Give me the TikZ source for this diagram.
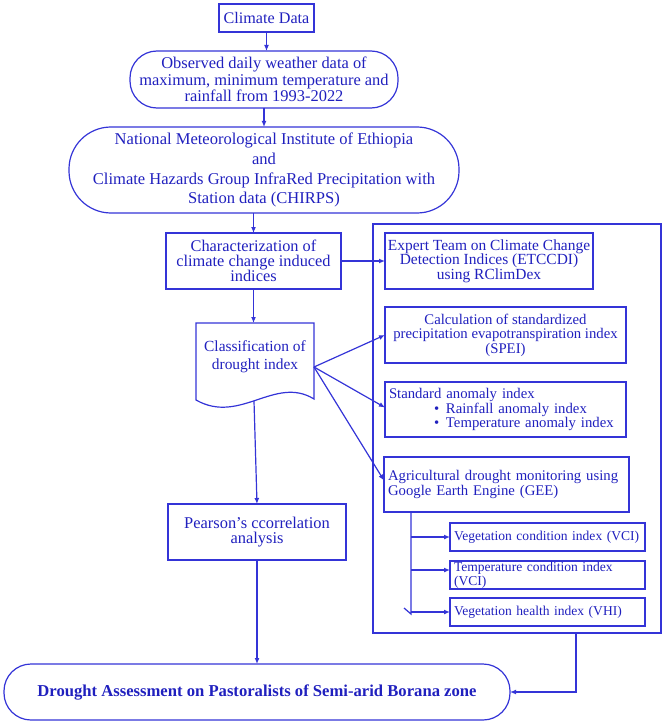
\documentclass[tikz,border=0pt]{standalone}
\usepackage{fontspec}
\setmainfont{Liberation Serif}
\usetikzlibrary{arrows.meta,calc}
\definecolor{ln}{RGB}{52,52,215}
\definecolor{tx}{RGB}{32,32,190}
\hyphenpenalty=10000
\exhyphenpenalty=10000
\begin{document}
\begin{tikzpicture}[x=1bp,y=-1bp,
  every node/.style={text=tx, inner sep=0pt, outer sep=0pt},
  box/.style={draw=ln, line width=1.2bp, align=center, font=\fontsize{16.5}{15}\selectfont},
  rbox/.style={draw=ln, line width=1.2bp, align=center, font=\fontsize{14.8}{14.5}\selectfont},
  lbox/.style={draw=ln, line width=1.2bp, align=left, inner xsep=4bp, font=\fontsize{14.8}{14.5}\selectfont},
  sbox/.style={draw=ln, line width=1.2bp, align=left, inner xsep=4bp, text width=187bp, minimum width=195bp, minimum height=28bp, font=\fontsize{13.6}{14}\selectfont},
  frame/.style={draw=ln, line width=1.2bp},
  conn/.style={draw=ln, line width=1.2bp},
  arr/.style={draw=ln, line width=1.2bp, -{Latex[length=6bp,width=5bp]}}
]
\useasboundingbox (0,0) rectangle (666,723);

% left column
\node[box, minimum width=95bp, minimum height=28bp, font=\fontsize{16.2}{15}\selectfont] (cd) at (266.5,18) {Climate Data};
\node[box, rounded corners=27bp, minimum width=268bp, minimum height=57bp,
  font=\fontsize{16.5}{16.5}\selectfont] (obs) at (264,79.5)
  {Observed daily weather data of\\maximum, minimum temperature and\\rainfall from 1993-2022};
\node[box, rounded corners=42bp, minimum width=390bp, minimum height=86bp,
  font=\fontsize{16.6}{20}\selectfont] (nmi) at (264,170)
  {National Meteorological Institute of Ethiopia\\and\\Climate Hazards Group InfraRed Precipitation with\\Station data (CHIRPS)};
\node[box, minimum width=175bp, minimum height=56bp,
  font=\fontsize{16.4}{15}\selectfont] (char) at (253.5,261)
  {Characterization of\\climate change induced\\indices};

% document shape
\node[minimum width=118bp, minimum height=77bp] (cls) at (255,361.5) {};
\draw[frame] (cls.north west) -- (cls.north east) -- (314,399)
  .. controls (275,375) and (240,425) .. (196,400) -- cycle;
\node[align=center, font=\fontsize{15.5}{18}\selectfont] (clstext) at (255,357) {Classification of\\drought index};
\coordinate (clr) at (314,367);
\coordinate (clb) at (254,401);

\node[box, minimum width=178bp, minimum height=56bp,
  font=\fontsize{16.5}{15}\selectfont] (pear) at (257,532)
  {Pearson’s ccorrelation\\analysis};
\node[box, rounded corners=27bp, minimum width=506bp, minimum height=56bp,
  font=\fontsize{16.7}{15}\selectfont\bfseries] (dr) at (257,692)
  {Drought Assessment on Pastoralists of Semi-arid Borana zone};

% right frame
\node[frame, minimum width=288bp, minimum height=409bp] (big) at (517,428.5) {};
\node[rbox, minimum width=208bp, minimum height=56bp,
  font=\fontsize{15.5}{14.5}\selectfont] (exp) at (489,261)
  {Expert Team on Climate Change\\Detection Indices (ETCCDI)\\using RClimDex};
\node[rbox, minimum width=241bp, minimum height=56bp] (spei) at (505.5,335)
  {Calculation of standardized\\precipitation evapotranspiration index\\(SPEI)};
\node[lbox, text width=233bp, minimum width=241bp, minimum height=55bp] (sai) at (505.5,409.5)
  {Standard anomaly index\\
   \hspace*{45bp}\makebox[12bp][l]{•}Rainfall anomaly index\\
   \hspace*{45bp}\makebox[12bp][l]{•}Temperature anomaly index};
\node[lbox, text width=237bp, minimum width=243bp, minimum height=55bp,
  font=\fontsize{14.8}{15}\selectfont] (agr) at (506.5,484.5)
  {Agricultural drought monitoring using\\Google Earth Engine (GEE)};
\node[sbox] (vci) at (547.5,537) {Vegetation condition index (VCI)};
\node[sbox] (tci) at (547.5,575) {Temperature condition index\\(VCI)};
\node[sbox] (vhi) at (547.5,612) {Vegetation health index (VHI)};

% connectors
\draw[arr] (cd.south) -- (cd.south |- obs.north);
\draw[arr] (obs.south) -- (obs.south |- nmi.north);
\draw[arr] (char.north |- nmi.south) -- (char.north);
\draw[arr] (char.east) -- (exp.west);
\draw[arr] (char.south) -- (char.south |- cls.north);
\draw[arr] (clr) -- (spei.west);
\draw[arr] (clr) -- ($(sai.west)+(0,-2)$);
\draw[arr] (clr) -- ($(agr.west)+(0,-4)$);
\draw[arr] (clb) -- (pear.north);
\draw[arr] (pear.south) -- (dr.north);

\coordinate (trtop) at (411,512);
\coordinate (trbot) at (411,614);
\draw[conn] (trtop) -- (trbot) -- ++(-7,-6);
\draw[arr] (trtop |- vci.west) -- (vci.west);
\draw[arr] (411,570) -- (vci.west |- 0,570);
\draw[arr] (trtop |- vhi.west) -- (vhi.west);

\coordinate (bb) at (576,633);
\draw[arr] (bb) |- (dr.east);
\end{tikzpicture}
\end{document}
